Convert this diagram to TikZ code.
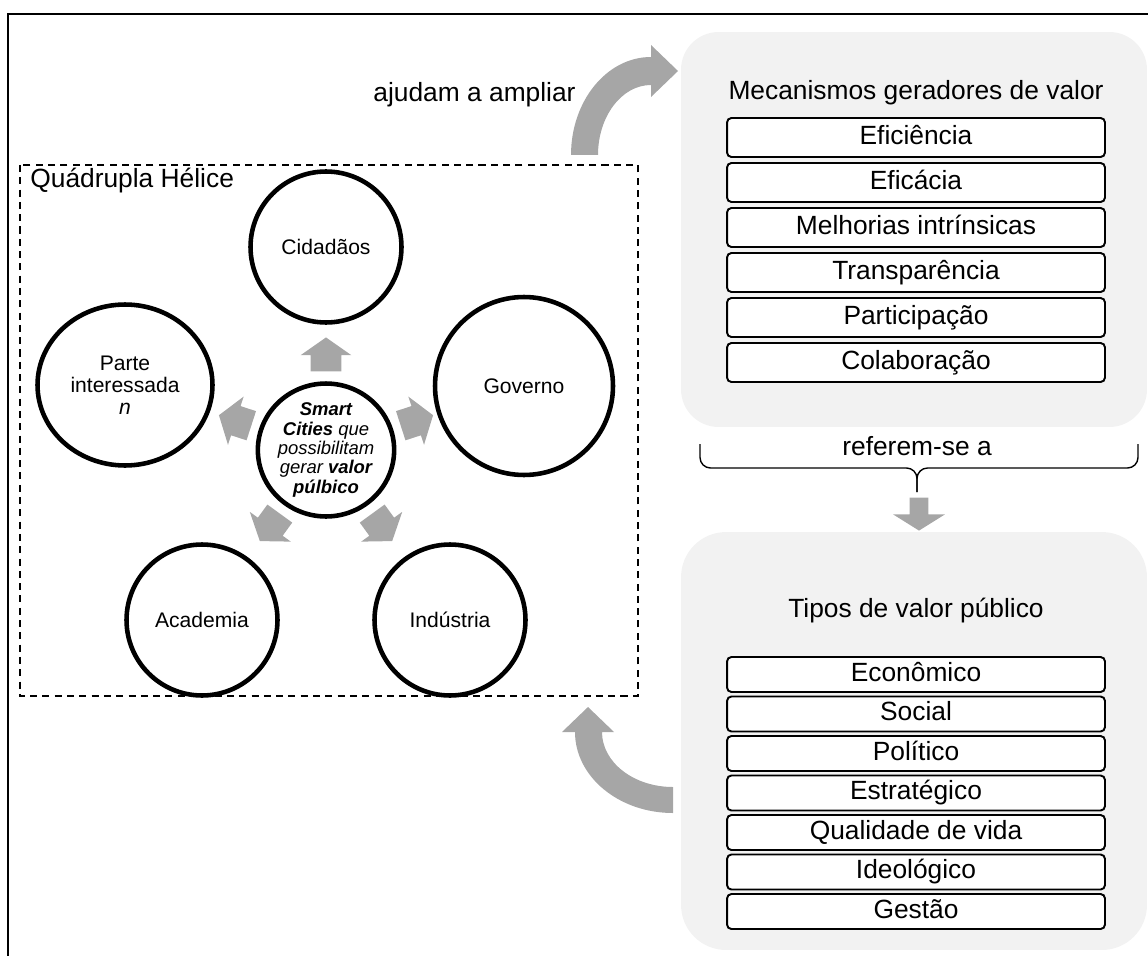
\documentclass[tikz,border=0pt]{standalone}
\usepackage{fontspec}
\setmainfont{Liberation Sans}
\usetikzlibrary{shapes.geometric,shapes.arrows,calc}
\definecolor{panelgray}{RGB}{242,242,242}
\definecolor{arrowgray}{RGB}{166,166,166}

\begin{document}
\begin{tikzpicture}[x=0.02cm,y=-0.02cm,
    helix/.style={ellipse,draw,line width=2.6pt,fill=white,inner sep=0pt,align=center,font=\fontsize{12}{12.5}\selectfont},
    hubarrow/.style={single arrow,fill=arrowgray,inner xsep=0pt,inner ysep=0.3cm,minimum height=0.68cm,minimum width=1cm,single arrow head extend=0.2cm,single arrow tip angle=110,anchor=tip},
    panel/.style={fill=panelgray,inner sep=0pt,minimum width=9.32cm},
    itembox/.style={draw,fill=white,line width=1.1pt,rounded corners=2.5pt,inner sep=0pt,minimum width=7.56cm,text height=1.75ex,text depth=0.3ex,font=\fontsize{15}{18}\selectfont},
    lbl/.style={inner sep=0pt,font=\fontsize{15}{18}\selectfont},
    bigarrow/.style={fill=arrowgray}]
            \useasboundingbox (0,0) rectangle (1148,956);
            \draw [line width=1.1pt] (1148,14) -- (8,14) -- (8,956);
            \node [panel,rounded corners=0.75cm,minimum height=7.9cm] (mechpanel) at (914,229.5) {};
            \node [panel,rounded corners=0.9cm,minimum height=8.36cm] (typepanel) at (914,741) {};
            \node [lbl,anchor=base] (mechtitle) at (916,100) {Mecanismos geradores de valor};
            \foreach \txt [count=\i] in {Eficiência,Eficácia,Melhorias intrínsicas,Transparência,Participação,Colaboração}
              \node [itembox,minimum height=0.78cm] (mech\i) at (916,{92.5+45*\i}) {\txt};
            \node [lbl,anchor=base] (typetitle) at (916,617) {Tipos de valor público};
            \foreach \txt [count=\i] in {Econômico,Social,Político,Estratégico,Qualidade de vida,Ideológico,Gestão}
              \node [itembox,minimum height=0.7cm] (type\i) at (916,{635+39.5*\i}) {\txt};
            \coordinate (braceL) at (700,444);
            \coordinate (braceR) at (1138,444);
            \coordinate (braceM) at (917,468);
            \draw [line width=0.8pt,rounded corners=6pt] (braceL) |- (braceM) -- ++(0,24);
            \draw [line width=0.8pt,rounded corners=6pt] (braceR) |- (braceM) -- ++(0,24);
            \node [lbl,anchor=base] (refers) at (917,455) {referem-se a};
            \node [single arrow,fill=arrowgray,inner xsep=0pt,inner ysep=0.18cm,rotate=-90,anchor=tip,minimum height=0.66cm,minimum width=1.02cm,single arrow head extend=0.33cm,single arrow tip angle=116] (refarrow) at (919,531) {};
            \draw [line width=1pt,dash pattern=on 4pt off 3pt] (20,165) rectangle (638,696);
            \node [lbl,anchor=base west] (quadlabel) at (30,188) {Quádrupla Hélice};
            \node [lbl,anchor=base] (helps) at (474.5,102) {ajudam a ampliar};
            \node [helix,minimum width=1.5cm,minimum height=1.32cm,font=\fontsize{10.5}{11}\selectfont\itshape] (hub) at (326,450)
              {\textbf{Smart}\\\textbf{Cities} que\\possibilitam\\gerar \textbf{valor}\\\textbf{púlbico}};
            \node [helix,minimum size=3.02cm] (citizens) at (326,247) {Cidadãos};
            \node [helix,minimum size=3.56cm] (government) at (524,386) {Governo};
            \node [helix,minimum width=3.5cm,minimum height=3.22cm] (stakeholder) at (125,385) {Parte\\interessada\\\textit{n}};
            \node [helix,minimum size=3.02cm] (academia) at (202,620) {Academia};
            \node [helix,minimum size=3.02cm] (industry) at (450,620) {Indústria};
            \foreach \ang/\pos in {90/-90,18/-18,-54/54,-126/126,162/-162}
              \node [hubarrow,rotate=\ang] (arr\pos) at ($(hub)+(\pos:113)$) {};
            \fill [bigarrow] (571,155) arc [start angle=180,end angle=270,x radius=80,y radius=98]
              -- (651,45) -- (678,71) -- (651,97) -- (651,85)
              arc [start angle=270,end angle=180,x radius=53,y radius=70] -- cycle;
            \fill [bigarrow] (602,732) -- (614,732) -- (588,707) -- (562,732) -- (575,732)
              arc [start angle=180,end angle=90,x radius=98,y radius=81]
              -- (673,787) arc [start angle=90,end angle=180,x radius=71,y radius=55] -- cycle;
\end{tikzpicture}
\end{document}
